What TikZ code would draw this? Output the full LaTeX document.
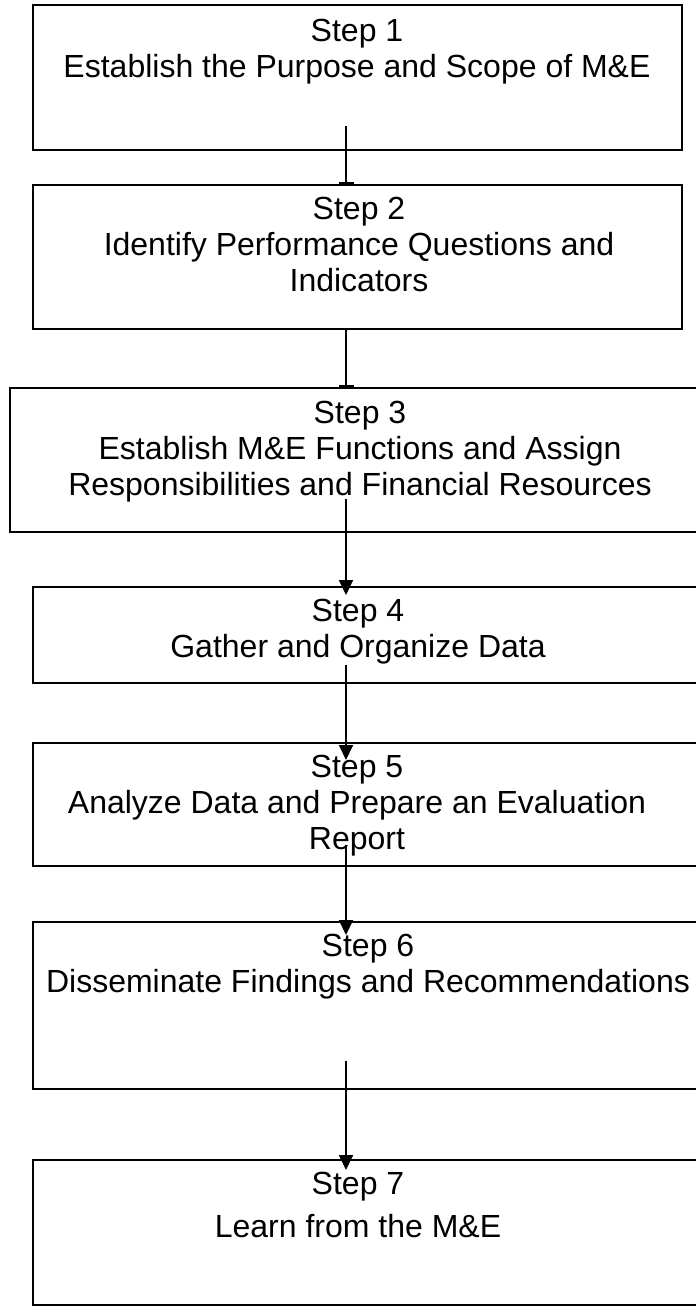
\documentclass[tikz,border=0pt]{standalone}
\usepackage{fontspec}
\setmainfont{Liberation Sans}
\usetikzlibrary{arrows.meta}

\tikzset{
  stepbox/.style={draw=black, line width=1.6pt, fill=white},
  steptext/.style={anchor=base, inner sep=0pt, font=\fontsize{32}{36}\selectfont},
  link/.style={draw=black, line width=1.8pt},
  tee/.style={link, -{Rectangle[length=3pt,width=15pt]}},
  flow/.style={link, -{Triangle[length=15pt,width=14pt]}}
}

\begin{document}
\begin{tikzpicture}[x=1pt, y=-1pt]
\useasboundingbox (0,0) rectangle (696,1312);
\clip (0,0) rectangle (696,1312);

% boxes (corners given in page units, y grows downward)
\draw[stepbox] (33,5)    rectangle (682,150)  coordinate (b1);
\draw[stepbox] (33,185)  rectangle (682,329)  coordinate (b2);
\draw[stepbox] (10,388)  rectangle (720,532)  coordinate (b3);
\draw[stepbox] (33,587)  rectangle (720,683)  coordinate (b4);
\draw[stepbox] (33,743)  rectangle (720,866)  coordinate (b5);
\draw[stepbox] (33,922)  rectangle (720,1089) coordinate (b6);
\draw[stepbox] (33,1160) rectangle (720,1305) coordinate (b7);

% connector end points
\coordinate (c1s) at (346,126);  \coordinate (c1e) at (346,185);
\coordinate (c2s) at (346,329);  \coordinate (c2e) at (346,388);
\coordinate (c3s) at (346,499);  \coordinate (c3e) at (346,595);
\coordinate (c4s) at (346,665);  \coordinate (c4e) at (346,760);
\coordinate (c5s) at (346,847);  \coordinate (c5e) at (346,935);
\coordinate (c6s) at (346,1061); \coordinate (c6e) at (346,1170);

\draw[tee]  (c1s) -- (c1e);
\draw[tee]  (c2s) -- (c2e);
\draw[flow] (c3s) -- (c3e);
\draw[flow] (c4s) -- (c4e);
\draw[flow] (c5s) -- (c5e);
\draw[flow] (c6s) -- (c6e);

% step texts
\node[steptext] (t1a) at (357,41)   {Step 1};
\node[steptext] (t1b) at (357,77)   {Establish the Purpose and Scope of M\&E};

\node[steptext] (t2a) at (359,219)  {Step 2};
\node[steptext] (t2b) at (359,255)  {Identify Performance Questions and};
\node[steptext] (t2c) at (359,291)  {Indicators};

\node[steptext] (t3a) at (360,423)  {Step 3};
\node[steptext] (t3b) at (360,459)  {Establish M\&E Functions and Assign};
\node[steptext] (t3c) at (360,495)  {Responsibilities and Financial Resources};

\node[steptext] (t4a) at (358,621)  {Step 4};
\node[steptext] (t4b) at (358,657)  {Gather and Organize Data};

\node[steptext] (t5a) at (357,777)  {Step 5};
\node[steptext] (t5b) at (357,813)  {Analyze Data and Prepare an Evaluation};
\node[steptext] (t5c) at (357,849)  {Report};

\node[steptext] (t6a) at (368,956)  {Step 6};
\node[steptext] (t6b) at (368,992)  {Disseminate Findings and Recommendations};

\node[steptext] (t7a) at (358,1194) {Step 7};
\node[steptext] (t7b) at (358,1237) {Learn from the M\&E};
\end{tikzpicture}
\end{document}
